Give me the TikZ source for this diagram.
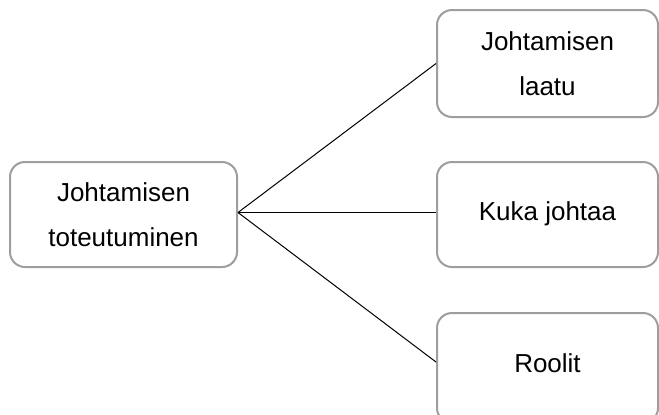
\documentclass[tikz,border=0pt]{standalone}
\usepackage{fontspec}
\setmainfont{Liberation Sans}
\begin{document}
\begin{tikzpicture}[x=0.5pt,y=-0.5pt,
  box/.style={draw=black!38, line width=1pt, rounded corners=7.5pt, fill=white,
    align=center, inner sep=0pt,
    font=\fontsize{13}{22.5}\selectfont},
  link/.style={draw=black, line width=0.5pt}]
  \clip (0,0) rectangle (659,414);
  \fill[white] (0,0) rectangle (659,414);
  % root box on the left
  \node[box, minimum width=113.5pt, minimum height=52.5pt] (root) at (123.5,214.5)
    {Johtamisen\\toteutuminen};
  % three branches on the right
  \node[box, minimum width=110.5pt, minimum height=53.5pt] (quality) at (547.5,63.5)
    {Johtamisen\\laatu};
  \node[box, minimum width=110.5pt, minimum height=52.5pt] (who) at (547.5,214.5)
    {\raisebox{3pt}{Kuka johtaa}};
  \node[box, minimum width=110.5pt, minimum height=55pt] (roles) at (547.5,368)
    {\raisebox{4.5pt}{Roolit}};
  % connectors
  \coordinate (hub) at ([yshift=1pt]root.east);
  \draw[link] (hub) -- (quality.west);
  \draw[link] (hub) -- ([yshift=1pt]who.west);
  \draw[link] (hub) -- ([yshift=3pt]roles.west);
\end{tikzpicture}
\end{document}
